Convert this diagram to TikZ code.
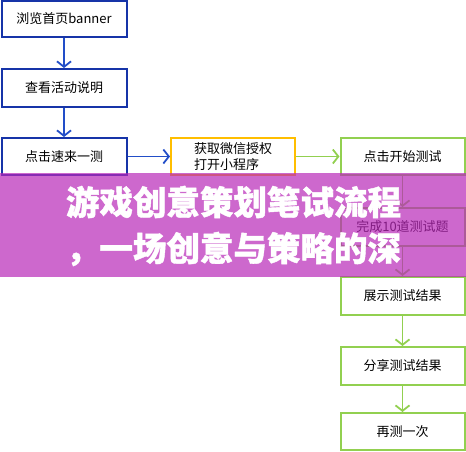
\documentclass[tikz,border=0pt]{standalone}
\usepackage{fontspec}
\newfontfamily\cjk{Noto Sans CJK SC}
\newfontfamily\cjkheavy{Noto Sans CJK SC}[BoldFeatures={FakeBold=1.2}]
\usetikzlibrary{arrows.meta}
\definecolor{bblue}{RGB}{22,52,168}
\definecolor{ablue}{RGB}{34,78,200}
\definecolor{ggreen}{RGB}{146,208,80}
\definecolor{yyellow}{RGB}{255,190,0}
\definecolor{banner}{RGB}{184,40,184}
\begin{document}
\begin{tikzpicture}[x=1pt,y=-1pt,
  box/.style={draw,line width=2pt,fill=white,minimum width=124pt,minimum height=37pt,inner sep=0pt,font=\cjk\fontsize{13pt}{16.5pt}\selectfont},
  bluebox/.style={box,draw=bblue},
  greenbox/.style={box,draw=ggreen},
  yellowbox/.style={box,draw=yyellow},
  arr/.style={line width=1.8pt,-{Straight Barb[length=5.5pt,width=14pt,line width=1.8pt]}},
  bluearr/.style={arr,draw=ablue},
  greenarr/.style={arr,draw=ggreen},
  title/.style={text=white,font=\cjkheavy\bfseries\fontsize{33.5pt}{40pt}\selectfont,inner sep=0pt}
]
\useasboundingbox (0,0) rectangle (466,451);
\node[bluebox,minimum width=125pt,minimum height=36pt] (b1) at (64,19) {浏览首页banner};
\node[bluebox,minimum width=125pt,minimum height=38pt] (b2) at (64,88) {查看活动说明};
\node[bluebox,minimum width=125pt] (b3) at (64,156.5) {点击速来一测};
\node[yellowbox,align=left] (m1) at (233,156.5) {获取微信授权\\打开小程序};
\node[greenbox] (r1) at (402.5,156.5) {点击开始测试};
\node[greenbox,minimum height=38pt] (r2) at (402.5,227) {完成10道测试题};
\node[greenbox,minimum height=38pt] (r3) at (402.5,296) {展示测试结果};
\node[greenbox,minimum height=38pt] (r4) at (402.5,366) {分享测试结果};
\node[greenbox] (r5) at (402.5,431.5) {再测一次};
\draw[bluearr] (b1) -- (b2);
\draw[bluearr] (b2) -- (b3);
\draw[bluearr] (b3) -- (m1);
\draw[greenarr] (m1) -- (r1);
\draw[greenarr] (r1) -- (r2);
\draw[greenarr] (r2) -- (r3);
\draw[greenarr] (r3) -- (r4);
\draw[greenarr] (r4) -- (r5);
\fill[banner,fill opacity=0.7] (0,173) rectangle (466,277);
\node[title] (t1) at (233.5,202) {游戏创意策划笔试流程};
\node[title] (t2) at (233.5,249) {，一场创意与策略的深};
\end{tikzpicture}
\end{document}
